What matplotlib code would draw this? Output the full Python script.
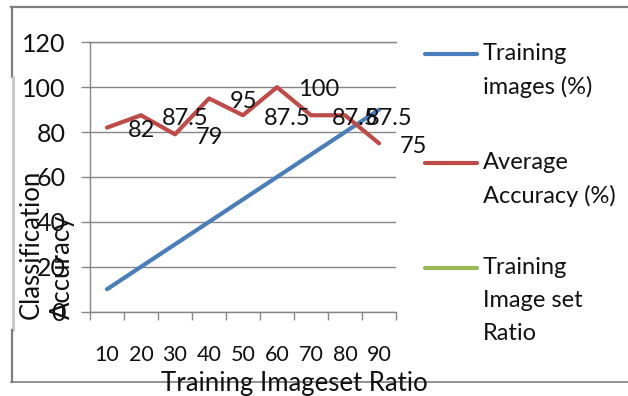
import matplotlib
matplotlib.use("Agg")
import matplotlib.pyplot as plt
from matplotlib.lines import Line2D

plt.rcParams['font.family'] = ['Lato', 'DejaVu Sans']

# ---- data ----
ratio_labels = ["10", "20", "30", "40", "50", "60", "70", "80", "90"]
training_images = [10, 20, 30, 40, 50, 60, 70, 80, 90]
average_accuracy = [82, 87.5, 79, 95, 87.5, 100, 87.5, 87.5, 75]
series_names = ["Training\nimages (%)", "Average\nAccuracy (%)", "Training\nImage set\nRatio"]
series_colors = ["#4A7EBB", "#BE4B48", "#98B954"]
y_ticks = [0, 20, 40, 60, 80, 100, 120]

W, H = 628, 396
fig = plt.figure(figsize=(W / 100, H / 100), dpi=100)


def fx(px):
    return px / W


def fy(py):
    return 1 - py / H


GRID = "#868686"
TXT = "#111111"

ax = fig.add_axes([fx(90), fy(311.7), fx(396) - fx(90), fy(42.3) - fy(311.7)])
x = list(range(1, len(ratio_labels) + 1))

ax.plot(x, training_images, color=series_colors[0], lw=3, solid_capstyle="round",
        solid_joinstyle="round", zorder=3)
ax.plot(x, average_accuracy, color=series_colors[1], lw=3, solid_capstyle="round",
        solid_joinstyle="round", zorder=4)

for xi, v in zip(x, average_accuracy):
    ax.annotate(f"{v:g}", (xi, v), xytext=(15, -2), textcoords="offset points",
                ha="left", va="center", fontsize=17, color=TXT,
                annotation_clip=False, zorder=5)

ax.set_xlim(0.5, len(x) + 0.5)
ax.set_ylim(0, 120)
ax.set_yticks(y_ticks)
ax.set_yticklabels([str(t) for t in y_ticks], fontsize=18, color=TXT)
ax.tick_params(axis="y", length=6.5, width=1, color=GRID, pad=11)
ax.yaxis.grid(True, color=GRID, lw=1)
ax.set_axisbelow(True)

ax.set_xticks([i + 0.5 for i in range(0, len(x) + 1)])
ax.set_xticklabels([])
ax.tick_params(axis="x", which="major", length=5.8, width=1, color=GRID)
ax.set_xticks(x, minor=True)
ax.set_xticklabels(ratio_labels, minor=True, fontsize=15.5, color=TXT)
ax.tick_params(axis="x", which="minor", length=0, pad=24)

ax.spines["right"].set_visible(False)
for side in ("left", "bottom", "top"):
    ax.spines[side].set_color(GRID)
    ax.spines[side].set_linewidth(1)

# axis titles
fig.text(fx(47), fy(319), "Classification\nAccuracy", rotation=90, ha="center",
         va="bottom", multialignment="left", fontsize=18.5, linespacing=1.3, color=TXT)
fig.text(fx(294), fy(391), "Training Imageset Ratio", ha="center",
         va="baseline", fontsize=18.5, zorder=3, color=TXT)

# legend
first_line_y = [54, 163, 268]
for name, color, y0 in zip(series_names, series_colors, first_line_y):
    fig.add_artist(Line2D([fx(425), fx(477)], [fy(y0), fy(y0)], color=color, lw=3,
                          solid_capstyle="round"))
    for k, line in enumerate(name.split("\n")):
        fig.text(fx(483), fy(y0 + 32.5 * k), line, ha="left", va="center",
                 fontsize=17, color=TXT)

# chart frame
frame_col = "#7F7F7F"
fig.add_artist(Line2D([fx(11), fx(628)], [fy(7), fy(7)], color=frame_col, lw=1.6))
fig.add_artist(Line2D([fx(11), fx(628)], [fy(382), fy(382)], color=frame_col, lw=1.2,
                      zorder=1))
fig.add_artist(Line2D([fx(11.5), fx(11.5)], [fy(7), fy(77)], color=frame_col, lw=1.6))
fig.add_artist(Line2D([fx(12.5), fx(12.5)], [fy(77), fy(330)], color="#C8C8C8", lw=2))
fig.add_artist(Line2D([fx(11.5), fx(11.5)], [fy(330), fy(382)], color=frame_col, lw=1.6))

fig.savefig("out.png", dpi=100)
